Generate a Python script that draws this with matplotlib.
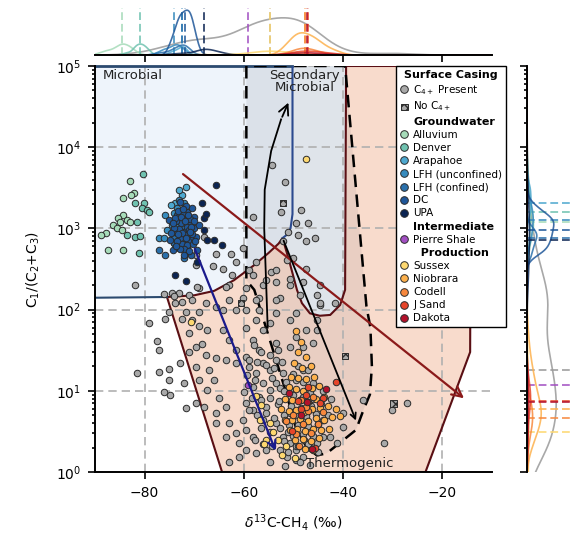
import numpy as np
import matplotlib
matplotlib.use('Agg')
import matplotlib.pyplot as plt
from matplotlib.patches import Polygon
from matplotlib.lines import Line2D

plt.rcParams['font.family'] = 'DejaVu Sans'
plt.rcParams['font.size'] = 10

# ---------------- data: (delta13C-CH4 [permil], C1/(C2+C3)) ----------------
surface_c4 = [
    (-54.3, 6000), (-51.8, 3700), (-48.4, 1700), (-58.2, 1400), (-49.4, 1150), (-47.1, 1150), (-49.1, 830),
    (-47.4, 690), (-45.7, 760), (-51.1, 900), (-52.1, 690), (-68.0, 790), (-65.6, 490), (-62.6, 490),
    (-61.6, 390), (-64.3, 320), (-66.3, 340), (-69.7, 355), (-81.9, 200), (-62.3, 270), (-60.2, 570),
    (-69.7, 470), (-76.1, 155), (-74.5, 160), (-73.1, 160), (-71.1, 150), (-69.0, 185), (-62.9, 200),
    (-59.6, 185), (-56.2, 200), (-53.5, 220), (-50.8, 200), (-48.1, 220), (-54.5, 290), (-50.1, 430),
    (-47.4, 320), (-44.7, 200), (-45.3, 150), (-52.5, 1600), (-57.5, 390), (-51.4, 410), (-58.9, 310),
    (-53.5, 310), (-50.8, 240), (-55.5, 230), (-58.2, 270), (-63.6, 190), (-69.4, 190), (-74.1, 145),
    (-72.4, 125), (-60.2, 140), (-56.9, 140), (-52.8, 140), (-48.7, 150), (-44.7, 115), (-41.6, 120),
    (-79.2, 68), (-77.5, 41), (-77.2, 32), (-81.6, 16.4), (-77.2, 17), (-75.1, 18.4), (-76.1, 9.8),
    (-74.8, 8.9), (-71.7, 6.1), (-72.1, 12.4), (-72.8, 22), (-75.1, 13.6), (-75.8, 76), (-72.4, 76),
    (-70.4, 75), (-71.1, 51), (-69.0, 62), (-67.4, 56), (-68.4, 38), (-69.7, 35), (-71.1, 30), (-67.7, 27.6),
    (-65.6, 25), (-69.7, 19.8), (-67.0, 18), (-69.0, 13.6), (-66.0, 13.6), (-67.4, 10.2), (-69.7, 7.0),
    (-68.0, 6.4), (-65.0, 8.1), (-63.6, 6.4), (-65.6, 4.0), (-62.9, 4.0), (-63.6, 2.7), (-61.6, 3.0),
    (-60.9, 2.26), (-62.9, 1.34), (-65.6, 5.3), (-64.3, 100), (-61.6, 100), (-62.9, 131), (-65.6, 109),
    (-67.7, 120), (-70.4, 131), (-73.8, 120), (-69.0, 94), (-71.7, 94), (-75.1, 94), (-64.3, 56), (-62.9, 42),
    (-61.6, 32), (-63.6, 24), (-61.6, 22), (-59.6, 26), (-58.2, 42), (-59.6, 59), (-57.5, 75), (-56.2, 56),
    (-54.8, 68), (-53.5, 90), (-50.8, 75), (-49.4, 90), (-47.4, 56), (-45.3, 56), (-53.5, 38.5), (-50.8, 35),
    (-48.1, 35), (-46.0, 38.5), (-56.9, 32), (-58.9, 19.8), (-57.5, 16.4), (-56.2, 22), (-54.8, 18),
    (-53.5, 24), (-52.1, 16.4), (-58.2, 11.2), (-56.9, 8.5), (-58.2, 5.8), (-59.6, 7.0), (-60.2, 4.4),
    (-59.6, 3.3), (-58.2, 2.7), (-56.2, 4.4), (-55.5, 6.4), (-54.8, 10.2), (-53.5, 12.4), (-53.5, 4.0),
    (-52.1, 2.7), (-50.8, 2.26), (-49.4, 1.87), (-51.4, 1.55), (-48.1, 1.55), (-49.4, 1.41), (-55.5, 1.87),
    (-57.5, 1.7), (-59.6, 1.87), (-60.9, 1.55), (-45.3, 2.26), (-42.6, 2.7), (-41.3, 2.26), (-44.0, 4.4),
    (-40.0, 5.3), (-40.0, 3.6), (-35.9, 7.7), (-31.8, 2.26), (-27.1, 7.0), (-30.1, 5.8), (-48.1, 18),
    (-49.4, 13.6), (-50.8, 10.2), (-48.7, 7.7), (-50.8, 5.3), (-46.7, 9.3), (-48.1, 4.4), (-44.7, 120),
    (-45.3, 75), (-49.4, 46), (-53.5, 131), (-57.5, 131), (-59.6, 100), (-56.9, 100),
    (-57.9, 36.7), (-56.5, 30), (-54.8, 27.6), (-53.2, 32), (-58.9, 24), (-57.3, 22.7), (-55.6, 21),
    (-54.0, 19), (-52.4, 22.7), (-59.3, 15.6), (-57.7, 13.6), (-56.1, 12.5), (-54.4, 14.4), (-52.8, 10.8),
    (-59.9, 9.7), (-58.3, 8.2), (-56.5, 7.7), (-54.8, 8.2), (-53.2, 6.9), (-58.9, 5.8), (-57.3, 5.0),
    (-55.6, 5.3), (-54.0, 4.6), (-56.5, 3.5), (-54.8, 3.1), (-52.8, 3.5), (-51.2, 3.1), (-57.7, 2.5),
    (-56.1, 2.2), (-54.4, 2.1), (-52.8, 1.87), (-51.2, 1.76), (-49.5, 2.1), (-47.9, 2.5), (-46.7, 1.98),
    (-45.1, 1.76), (-48.7, 1.33), (-46.7, 1.22), (-54.8, 1.33), (-51.8, 1.19),
    (-52.0, 10), (-50.0, 9), (-48.0, 8.5), (-46.0, 8), (-50.5, 6.5), (-48.5, 6.2), (-46.5, 6.5), (-44.5, 6.8),
    (-49.5, 5.0), (-47.5, 4.9), (-45.5, 5.2), (-51.0, 3.8), (-49.0, 3.8), (-47.0, 3.7), (-45.0, 3.9),
    (-50.0, 2.8), (-48.0, 2.9), (-46.0, 2.8), (-52.0, 2.4), (-49.0, 2.1), (-47.0, 2.2), (-44.0, 2.7),
    (-50.0, 16), (-48.0, 13), (-46.0, 12.5), (-49.0, 20), (-47.0, 18), (-44.0, 10), (-42.5, 8), (-43.0, 5),
    (-51.5, 13), (-53.0, 7.5), (-52.0, 5),
]
surface_no_c4 = [(-52.1, 2050), (-29.8, 7.0), (-60.6, 120), (-39.6, 27)]

alluvium = [(-83.0, 3800), (-82.1, 2700), (-82.7, 2580), (-84.4, 2400), (-84.3, 1460), (-85.3, 1330),
            (-83.6, 1270), (-84.9, 1210), (-83.0, 1210), (-86.3, 1100), (-85.6, 1010), (-84.6, 955),
            (-87.7, 890), (-88.7, 830), (-87.3, 540), (-84.3, 540)]
denver = [(-80.3, 4700), (-81.9, 2050), (-80.2, 2050), (-80.5, 1800), (-79.5, 1690), (-79.2, 1600),
          (-81.6, 1210), (-81.9, 790), (-80.9, 800), (-81.2, 500), (-83.6, 830)]
arapahoe = [(-71.7, 3270), (-72.4, 2590), (-73.1, 2980), (-73.8, 2060), (-74.7, 1950), (-72.4, 1690),
            (-71.9, 1460)]
lfh_unconfined = [(-73.1, 2240), (-72.1, 2060), (-73.4, 1790), (-74.1, 1550), (-75.8, 1470), (-73.1, 1350),
                  (-72.1, 1270), (-74.5, 1100), (-73.4, 1050), (-75.5, 955), (-77.2, 764), (-76.1, 764),
                  (-74.1, 662)]
lfh_confined = [(-72.4, 1010), (-71.4, 955), (-74.1, 793), (-72.8, 830), (-71.1, 830), (-72.4, 662),
                (-71.4, 597), (-74.1, 662), (-77.2, 543), (-75.8, 470), (-72.1, 433), (-73.9, 905),
                (-72.3, 764)]
dc = [(-71.4, 1610), (-70.1, 1400), (-70.7, 1200), (-70.1, 1010), (-71.1, 1130), (-72.7, 1200), (-73.5, 1460),
      (-69.7, 793), (-70.7, 720), (-73.1, 575), (-71.7, 510), (-74.3, 540), (-69.4, 540), (-70.7, 470),
      (-75.1, 1270), (-69.0, 1100), (-70.5, 1790),
      (-72.0, 900), (-71.5, 1050), (-72.6, 1150), (-73.0, 980), (-71.8, 820), (-72.9, 760), (-71.2, 700),
      (-72.4, 880), (-73.6, 1230), (-70.9, 1320), (-72.2, 1520), (-73.3, 1640), (-71.7, 1880), (-72.8, 2100),
      (-71.0, 950), (-74.0, 1000), (-70.4, 860), (-72.5, 640), (-73.5, 700), (-71.4, 620), (-72.0, 560),
      (-70.2, 640), (-73.9, 1350), (-74.6, 870), (-72.7, 1400), (-71.3, 1450), (-70.6, 1050), (-73.2, 850),
      (-71.9, 1250), (-72.3, 1750), (-74.2, 1180), (-70.0, 1250), (-71.6, 760), (-72.9, 550), (-73.7, 600),
      (-71.0, 520), (-72.1, 470), (-69.8, 700), (-74.9, 720), (-70.8, 900)]
upa = [(-65.6, 3430), (-68.4, 2060), (-68.0, 1350), (-66.0, 720), (-68.0, 955), (-64.4, 625), (-73.8, 267),
       (-71.7, 225), (-67.4, 720), (-67.6, 1500), (-69.4, 386)]
pierre_shale = [(-59.1, 11.8)]
sussex = [(-70.7, 70), (-56.6, 6.6), (-56.8, 4.4), (-55.6, 2.5), (-56.0, 2.2), (-54.2, 3.1), (-53.2, 2.5),
          (-54.8, 4.0), (-47.4, 7200), (-51.6, 2.1), (-52.4, 1.6), (-57.6, 8.6), (-49.6, 1.5)]
niobrara = [(-49.5, 55), (-48.5, 40), (-49.0, 30), (-47.5, 26), (-49.8, 22), (-48.3, 19), (-46.5, 20),
            (-50.5, 15), (-49.0, 14.5), (-47.5, 14), (-45.8, 15), (-51.0, 11), (-49.5, 10.5), (-48.0, 10),
            (-46.3, 10.8), (-44.8, 11.5), (-51.8, 8), (-50.2, 7.6), (-48.6, 7.8), (-47.0, 7.3), (-45.4, 8),
            (-43.8, 8.3), (-52.5, 6), (-51.0, 5.6), (-49.4, 5.8), (-47.8, 5.5), (-46.2, 6.0), (-44.6, 6.2),
            (-43.0, 6.5), (-41.4, 6.0), (-51.8, 4.4), (-50.2, 4.4), (-48.6, 4.5), (-47.0, 4.3), (-45.4, 4.6),
            (-43.8, 4.4), (-42.2, 4.8), (-40.6, 4.9), (-50.8, 3.3), (-49.2, 3.4), (-47.6, 3.2), (-46.0, 3.4),
            (-44.4, 3.3), (-42.8, 3.4), (-49.6, 2.5), (-48.0, 2.55), (-46.4, 2.4), (-44.8, 2.6), (-47.6, 1.9),
            (-46.0, 1.85)]
codell = [(-48.5, 7.7), (-47.0, 5.6), (-46.0, 8.4), (-50.0, 5.0), (-48.0, 3.9), (-46.5, 3.0), (-45.0, 3.9),
          (-49.5, 2.9), (-51.5, 4.2), (-44.0, 5.5), (-47.5, 6.3), (-48.8, 2.1)]
j_sand = [(-44.1, 8.1), (-44.7, 7.0), (-45.7, 2.0), (-41.4, 12.8), (-47.5, 9.0), (-48.5, 6.0), (-50.2, 3.2),
          (-47.0, 11), (-49.0, 7.5)]
dakota = [(-43.5, 10.5), (-47.3, 7.3), (-48.5, 5.0), (-46.2, 1.9), (-51.0, 9.5)]

# genetic fields (field boundaries, data units)
microbial_field = [(-90, 140), (-90, 1e5), (-50.2, 1e5), (-50.2, 1500), (-50.6, 1000), (-51.5, 820),
                   (-52.2, 760), (-55, 500), (-58, 350), (-62, 230), (-66, 170), (-70, 150), (-75.5, 143)]
secondary_field = [(-59.5, 1e5), (-59.5, 230), (-57.9, 175), (-51.8, 11), (-49.5, 3.5), (-47.5, 2.1),
                   (-45.3, 1.6), (-43.3, 1.7), (-40.6, 2.3), (-37.4, 3.3), (-35.9, 5.8), (-34.6, 9),
                   (-34.2, 20), (-34.5, 60), (-35.3, 110), (-39.6, 1e5)]
thermogenic_field = [(-75.5, 143), (-70, 150), (-66, 170), (-62, 230), (-58, 350), (-55, 500), (-53, 650),
                     (-52.2, 760), (-50.8, 385), (-49.3, 175), (-48.3, 120), (-46.7, 90), (-44.7, 84),
                     (-42.6, 86), (-40.6, 114), (-39.6, 175), (-39.4, 1e5), (-14.2, 1e5), (-14.4, 30),
                     (-23.4, 1), (-64.4, 1)]
microbial_edge = [(-50.2, 1e5), (-50.2, 1500), (-50.6, 1000), (-51.5, 820), (-52.2, 760)]
oxidation_curve = [(-55.2, 60), (-55.6, 300), (-55.9, 1000), (-55.8, 3000), (-54.5, 9000), (-52.5, 22000),
                   (-50.8, 38000)]

groups = [
    ('Alluvium', alluvium, '#a6dbb9'),
    ('Denver', denver, '#6fc2b0'),
    ('Arapahoe', arapahoe, '#4ea8cf'),
    ('LFH (unconfined)', lfh_unconfined, '#378bbd'),
    ('LFH (confined)', lfh_confined, '#2a70ab'),
    ('DC', dc, '#1f5799'),
    ('UPA', upa, '#0b2452'),
    ('Pierre Shale', pierre_shale, '#a24fc2'),
    ('Sussex', sussex, '#fdd870'),
    ('Niobrara', niobrara, '#fdb14d'),
    ('Codell', codell, '#f7883d'),
    ('J Sand', j_sand, '#e6452a'),
    ('Dakota', dakota, '#b3112b'),
]
gray = '#a9a9a9'
edge = '#2b2b2b'


def kde(vals, grid):
    # gaussian kde scaled by group size (counts)
    vals = np.asarray(vals, float)
    n = len(vals)
    bw = vals.std(ddof=1) * n ** (-0.2)
    d = np.exp(-0.5 * ((grid[:, None] - vals[None, :]) / bw) ** 2).sum(1)
    return d / (bw * np.sqrt(2 * np.pi))


fig = plt.figure(figsize=(5.73, 5.34), dpi=100)
ax = fig.add_axes([0.1658, 0.1161, 0.6928, 0.7603])
ax_top = fig.add_axes([0.1658, 0.897, 0.6928, 0.088])
ax_right = fig.add_axes([0.9197, 0.1161, 0.09, 0.7603])

# fields
ax.add_patch(Polygon(microbial_field, closed=True, facecolor='#eef4fb', edgecolor='none', zorder=0.6))
ax.add_patch(Polygon(secondary_field, closed=True, facecolor='#d5dbe3', alpha=0.75, edgecolor='none', zorder=0.7))
ax.add_patch(Polygon(thermogenic_field, closed=True, facecolor='#f3b99b', alpha=0.5, edgecolor='none', zorder=0.8))
ax.add_patch(Polygon(thermogenic_field, closed=True, facecolor='none', edgecolor='#5a0f14', lw=1.5, zorder=2.2))
ax.add_patch(Polygon(secondary_field, closed=True, facecolor='none', edgecolor='black', lw=1.8,
                     ls=(0, (5, 3)), zorder=2.3))
ax.plot([-90, -75.5], [140, 143], color='#2b4a6f', lw=1.5, zorder=2.2)
ax.plot([-90, -50.2], [1e5, 1e5], color='#2b4a6f', lw=2, zorder=2.2, clip_on=False)
mx, my = zip(*microbial_edge)
ax.plot(mx, my, color='#2b4a8f', lw=1.5, zorder=2.2)

# process arrows
ax.annotate('', xy=(-15.2, 7.7), xytext=(-72.7, 4900),
            arrowprops=dict(arrowstyle='->', color='#8b1a1a', lw=1.6, mutation_scale=18), zorder=5)
ax.annotate('', xy=(-53.4, 1.7), xytext=(-70.1, 600),
            arrowprops=dict(arrowstyle='->', color='#1a1a8c', lw=1.6, mutation_scale=14), zorder=5)
ax.annotate('', xy=(-37.2, 4.0), xytext=(-52.2, 760),
            arrowprops=dict(arrowstyle='->', color='black', lw=1.3, mutation_scale=10), zorder=5)
ox, oy = zip(*oxidation_curve)
ax.plot(ox[:-1], oy[:-1], color='black', lw=1.3, zorder=5)
ax.annotate('', xy=oxidation_curve[-1], xytext=oxidation_curve[-2],
            arrowprops=dict(arrowstyle='->', color='black', lw=1.3, mutation_scale=18), zorder=5)

# points
sx, sy = zip(*surface_c4)
ax.scatter(sx, sy, s=22, c=gray, edgecolors=edge, linewidths=0.7, zorder=3)
nx, ny = zip(*surface_no_c4)
ax.scatter(nx, ny, s=22, marker='s', c=gray, edgecolors=edge, linewidths=0.7, hatch='xxxx', zorder=3)
for name, pts, col in groups:
    gx, gy = zip(*pts)
    ax.scatter(gx, gy, s=22, c=col, edgecolors=edge, linewidths=0.7, zorder=4)

ax.set_yscale('log')
ax.set_xlim(-90, -10)
ax.set_ylim(1, 1e5)
ax.set_xticks([-80, -60, -40, -20])
ax.grid(True, which='major', color='#b0b0b0', ls=(0, (5, 3)), lw=1.2)
ax.set_axisbelow('line')
for s in ['top', 'right']:
    ax.spines[s].set_visible(False)
for s in ['left', 'bottom']:
    ax.spines[s].set_linewidth(1.4)
ax.tick_params(which='both', direction='out', width=1.2)
ax.tick_params(which='major', length=5, pad=5)
ax.set_xlabel(r'$\delta^{13}$C-CH$_4$ (‰)', labelpad=9)
ax.set_ylabel(r'C$_1$/(C$_2$+C$_3$)', labelpad=10)

ax.text(-88.5, 9.3e4, 'Microbial', ha='left', va='top', fontsize=9.5, color='#222222', zorder=6)
ax.text(-47.7, 9.3e4, 'Secondary\nMicrobial', ha='center', va='top', fontsize=9.5, color='#222222',
        linespacing=0.95, zorder=6)
ax.text(-38.6, 1.05, 'Thermogenic', ha='center', va='bottom', fontsize=9.5, color='#222222', zorder=6)

# legend
hdr = lambda t: (Line2D([], [], ls='none'), t)
dot = lambda c, t: (Line2D([], [], ls='none', marker='o', ms=5.5, mfc=c, mec=edge, mew=0.7), t)
entries = [dot(gray, 'C$_{4+}$ Present'),
           (ax.scatter([], [], s=22, marker='s', c=gray, edgecolors=edge, linewidths=0.7, hatch='xxxx'), 'No C$_{4+}$'),
           hdr('Groundwater')]
entries += [dot(c, n) for n, _, c in groups[:7]]
entries += [hdr('Intermediate'), dot(groups[7][2], groups[7][0]), hdr('  Production')]
entries += [dot(c, n) for n, _, c in groups[8:]]
handles, labels = zip(*entries)
leg = ax.legend(handles, labels, loc='upper right', bbox_to_anchor=(1.035, 1.0), fontsize=7.5,
                title='Surface Casing', title_fontproperties={'weight': 'bold', 'size': 8},
                frameon=True, fancybox=False, framealpha=1, edgecolor='black', borderaxespad=0,
                handlelength=1.0, handletextpad=0.35, labelspacing=0.3, borderpad=0.35)
leg.get_frame().set_linewidth(1.0)
leg.set_zorder(10)
for t in leg.get_texts():
    if t.get_text().strip() in ('Groundwater', 'Intermediate', 'Production'):
        t.set_fontweight('bold')
        t.set_fontsize(8)

# marginal distributions
xgrid = np.linspace(-90, -10, 400)
lgrid = np.linspace(0, 5, 400)
all_groups = [('Surface', surface_c4 + surface_no_c4, '#999999')] + groups
top_max, gw_max = 0, 0
for i, (name, pts, col) in enumerate(all_groups):
    gx, gy = zip(*pts)
    gx = np.array(gx)
    ly = np.log10(gy)
    if len(pts) > 1:
        dx = kde(gx, xgrid)
        dy = kde(ly, lgrid)
        ax_top.plot(xgrid, dx, color=col, lw=1.2, alpha=0.85)
        ax_right.plot(dy, 10 ** lgrid, color=col, lw=1.2, alpha=0.85)
        top_max = max(top_max, dx.max())
        if 1 <= i <= 7:
            gw_max = max(gw_max, dy.max())
    ax_top.axvline(np.median(gx), color=col, ls=(0, (4, 2)), lw=1.4, alpha=0.8)
    ax_right.axhline(10 ** np.median(ly), color=col, ls=(0, (4, 2)), lw=1.4, alpha=0.8)

ax_top.set_xlim(-90, -10)
ax_top.set_ylim(0, top_max * 1.05)
ax_top.set_xticks([-80, -60, -40, -20])
ax_top.tick_params(axis='x', labelbottom=False, direction='out', width=1.2, length=5)
ax_top.set_yticks([])
for s in ['top', 'right', 'left']:
    ax_top.spines[s].set_visible(False)
ax_top.spines['bottom'].set_linewidth(1.4)

ax_right.set_yscale('log')
ax_right.set_ylim(1, 1e5)
ax_right.set_xlim(0, gw_max / 0.52)
ax_right.tick_params(axis='y', which='both', labelleft=False, direction='out', width=1.2)
ax_right.tick_params(axis='y', which='major', length=5)
ax_right.set_xticks([])
for s in ['top', 'right', 'bottom']:
    ax_right.spines[s].set_visible(False)
ax_right.spines['left'].set_linewidth(1.4)

fig.savefig('out.png', dpi=100)
